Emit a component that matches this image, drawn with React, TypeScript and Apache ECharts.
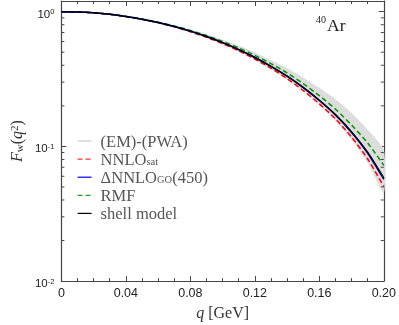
import React, { useEffect, useRef } from "react";
import * as echarts from "echarts";

// ---- data ----
const qValues = [0, 0.01, 0.02, 0.03, 0.04, 0.05, 0.06, 0.07, 0.08, 0.09, 0.1, 0.11, 0.12, 0.13, 0.14, 0.15, 0.16, 0.17, 0.18, 0.19, 0.2];
const shellModel = [1.0, 0.995, 0.98, 0.956, 0.922, 0.88, 0.832, 0.777, 0.717, 0.654, 0.589, 0.523, 0.457, 0.393, 0.332, 0.274, 0.22, 0.172, 0.128, 0.09, 0.058];
const deltaNNLO = [1.0, 0.995, 0.98, 0.956, 0.922, 0.88, 0.832, 0.777, 0.717, 0.654, 0.589, 0.523, 0.457, 0.393, 0.332, 0.273, 0.219, 0.171, 0.127, 0.089, 0.057];
const nnloSat = [1.0, 0.995, 0.98, 0.956, 0.92, 0.878, 0.829, 0.772, 0.71, 0.645, 0.579, 0.512, 0.445, 0.38, 0.318, 0.26, 0.207, 0.16, 0.117, 0.0806, 0.0503];
const rmf = [1.0, 0.995, 0.98, 0.956, 0.924, 0.883, 0.836, 0.784, 0.726, 0.665, 0.602, 0.538, 0.474, 0.411, 0.351, 0.292, 0.238, 0.189, 0.144, 0.106, 0.0723];
const bandUpper = [1.0, 0.995, 0.98, 0.958, 0.925, 0.886, 0.842, 0.792, 0.737, 0.679, 0.62, 0.56, 0.498, 0.437, 0.38, 0.325, 0.272, 0.224, 0.177, 0.133, 0.0942];
const bandLower = [1.0, 0.995, 0.98, 0.954, 0.92, 0.877, 0.826, 0.769, 0.707, 0.642, 0.574, 0.506, 0.438, 0.373, 0.313, 0.255, 0.202, 0.155, 0.112, 0.0753, 0.0453];

const xMin = 0;
const xMax = 0.2;
const xInterval = 0.04;
const xTickLabels = ["0", "0.04", "0.08", "0.12", "0.16", "0.20"];
const yMin = 0.01;
const yMax = 1.2;
const yMajorTicks = [0.01, 0.1, 1];
const yTickExponents = ["-2", "-1", "0"];
const yMinorTicks = [0.02, 0.03, 0.04, 0.05, 0.06, 0.07, 0.08, 0.09, 0.2, 0.3, 0.4, 0.5, 0.6, 0.7, 0.8, 0.9];

const legendNames = ["(EM)-(PWA)", "NNLO_sat", "ΔNNLO_GO(450)", "RMF", "shell model"];
const legendLabels: Record<string, string> = {
  "(EM)-(PWA)": "{t|(EM)-(PWA)}",
  "NNLO_sat": "{t|NNLO}{sub|sat}",
  "ΔNNLO_GO(450)": "{t|ΔNNLO}{sub|GO}{t|(450)}",
  "RMF": "{t|RMF}",
  "shell model": "{t|shell model}",
};

const SERIF = '"Liberation Serif", "DejaVu Serif", serif';
const SANS = '"Liberation Sans", Arial, sans-serif';
const AXIS_COLOR = "#444";

export default function App() {
  const ref = useRef<HTMLDivElement>(null);

  useEffect(() => {
    if (!ref.current) return;
    const chart = echarts.init(ref.current, null, { renderer: "svg" });
    const pairs = (arr: number[]) => qValues.map((q, i) => [q, arr[i]]);

    const lineSeries = (name: string, arr: number[], color: string, dashed: boolean, width: number) => ({
      type: "line",
      name,
      data: pairs(arr),
      symbol: "none",
      showSymbol: false,
      smooth: 0.25,
      silent: true,
      lineStyle: { color, width, type: dashed ? [5, 3] : "solid" },
      itemStyle: { color },
    });

    const axisLineStyle = { color: AXIS_COLOR, width: 1.2 };
    const legendLine = (color: string, dashed: boolean) => ({
      color,
      width: 1.2,
      type: dashed ? [5, 3] : "solid",
    });

    const option: any = {
      animation: false,
      grid: { left: 59, right: 14, top: 1, bottom: 42, containLabel: false },
      xAxis: [
        {
          type: "value",
          min: xMin,
          max: xMax,
          interval: xInterval,
          position: "bottom",
          axisLine: { onZero: false, lineStyle: axisLineStyle },
          axisTick: { inside: true, length: 5, lineStyle: { color: AXIS_COLOR } },
          minorTick: { show: true, splitNumber: 4, length: 3, lineStyle: { color: AXIS_COLOR } },
          splitLine: { show: false },
          axisLabel: {
            margin: 5,
            fontFamily: SANS,
            fontSize: 12.5,
            color: "#222",
            formatter: (v: number) => xTickLabels[Math.round((v - xMin) / xInterval)] ?? "",
          },
          name: "{i|q} [GeV]",
          nameLocation: "middle",
          nameGap: 20,
          nameTextStyle: {
            fontFamily: SERIF,
            fontSize: 16,
            color: "#333",
            rich: { i: { fontFamily: SERIF, fontSize: 16, fontStyle: "italic", color: "#333" } },
          },
        },
        {
          type: "value",
          min: xMin,
          max: xMax,
          interval: xInterval,
          position: "top",
          axisLine: { onZero: false, lineStyle: axisLineStyle },
          axisTick: { inside: true, length: 5, lineStyle: { color: AXIS_COLOR } },
          minorTick: { show: true, splitNumber: 4, length: 3, lineStyle: { color: AXIS_COLOR } },
          splitLine: { show: false },
          axisLabel: { show: false },
        },
      ],
      yAxis: [
        {
          type: "log",
          logBase: 10,
          min: yMin,
          max: yMax,
          position: "left",
          axisLine: { onZero: false, lineStyle: axisLineStyle },
          axisTick: { inside: true, length: 5, lineStyle: { color: AXIS_COLOR } },
          splitLine: { show: false },
          axisLabel: {
            margin: 7,
            padding: [4, 0, 0, 0],
            formatter: (v: number) => {
              const idx = yMajorTicks.findIndex((t) => Math.abs(Math.log10(v) - Math.log10(t)) < 1e-6);
              return idx < 0 ? "" : "{b|10}{s|" + yTickExponents[idx] + "}";
            },
            rich: {
              b: { fontFamily: SANS, fontSize: 11.5, color: "#222", lineHeight: 12, verticalAlign: "bottom" },
              s: { fontFamily: SANS, fontSize: 7.5, color: "#222", lineHeight: 6, verticalAlign: "top" },
            },
          },
          name: "{i|F}{sub|w}({i|q}{sup|2})",
          nameLocation: "middle",
          nameRotate: 90,
          nameGap: 34,
          nameTextStyle: {
            fontFamily: SERIF,
            fontSize: 16,
            lineHeight: 16,
            color: "#333",
            rich: {
              i: { fontFamily: SERIF, fontSize: 16, fontStyle: "italic", color: "#333", lineHeight: 16 },
              sub: { fontFamily: SERIF, fontSize: 11, color: "#333", lineHeight: 6, verticalAlign: "bottom" },
              sup: { fontFamily: SERIF, fontSize: 11, color: "#333", lineHeight: 10, verticalAlign: "top" },
            },
          },
        },
        {
          type: "log",
          logBase: 10,
          min: yMin,
          max: yMax,
          position: "right",
          axisLine: { onZero: false, lineStyle: axisLineStyle },
          axisTick: { inside: true, length: 5, lineStyle: { color: AXIS_COLOR } },
          splitLine: { show: false },
          axisLabel: { show: false },
        },
      ],
      legend: {
        orient: "vertical",
        left: 77,
        top: 132.5,
        padding: 0,
        itemWidth: 14,
        itemHeight: 2,
        itemGap: 1.1,
        selectedMode: false,
        formatter: (name: string) => legendLabels[name] ?? name,
        textStyle: {
          color: "#555",
          fontFamily: SERIF,
          fontSize: 16,
          lineHeight: 16,
          padding: [0, 0, 0, 4],
          rich: {
            t: { fontFamily: SERIF, fontSize: 16.5, color: "#555", lineHeight: 16 },
            sub: { fontFamily: SERIF, fontSize: 10.5, color: "#555", lineHeight: 6, verticalAlign: "bottom" },
          },
        },
        data: [
          { name: legendNames[0], itemStyle: { color: "#e0e0e0" } },
          { name: legendNames[1], itemStyle: { opacity: 0 }, lineStyle: legendLine("#ff3030", true) },
          { name: legendNames[2], itemStyle: { opacity: 0 }, lineStyle: legendLine("#0000ff", false) },
          { name: legendNames[3], itemStyle: { opacity: 0 }, lineStyle: legendLine("#20a020", true) },
          { name: legendNames[4], itemStyle: { opacity: 0 }, lineStyle: legendLine("#000000", false) },
        ],
      },
      graphic: [
        { type: "text", left: 316, top: 14, style: { text: "40", fontFamily: SERIF, fontSize: 10, fill: "#222" } },
        { type: "text", left: 327, top: 16, style: { text: "Ar", fontFamily: SERIF, fontSize: 17.5, fill: "#222" } },
      ],
      series: [
        {
          type: "custom",
          name: legendNames[0],
          silent: true,
          data: [[0, 1]],
          itemStyle: { color: "#dddddd" },
          renderItem: (params: any, api: any) => {
            if (params.dataIndex !== 0) return null;
            const up = qValues.map((q, i) => api.coord([q, bandUpper[i]]));
            const lo = qValues.map((q, i) => api.coord([q, bandLower[i]])).reverse();
            return { type: "polygon", shape: { points: up.concat(lo), smooth: 0.2 }, style: { fill: "#dddddd" } };
          },
          z: 1,
        },
        { ...lineSeries(legendNames[1], nnloSat, "#ff0000", true, 1.5), z: 3 },
        { ...lineSeries(legendNames[3], rmf, "#009600", true, 1.5), z: 3 },
        { ...lineSeries(legendNames[2], deltaNNLO, "#0000ff", false, 1.5), z: 4 },
        { ...lineSeries(legendNames[4], shellModel, "#000000", false, 1.5), z: 5 },
        {
          type: "custom",
          name: "yMinorTicks",
          silent: true,
          clip: false,
          data: yMinorTicks.map((v) => [xMin, v]),
          renderItem: (params: any, api: any) => {
            const v = api.value(1);
            const l = api.coord([xMin, v]);
            const r = api.coord([xMax, v]);
            return {
              type: "group",
              children: [
                { type: "line", shape: { x1: l[0], y1: l[1], x2: l[0] + 3, y2: l[1] }, style: { stroke: AXIS_COLOR, lineWidth: 1 } },
                { type: "line", shape: { x1: r[0] - 3, y1: r[1], x2: r[0], y2: r[1] }, style: { stroke: AXIS_COLOR, lineWidth: 1 } },
              ],
            };
          },
          z: 10,
        },
      ],
    };

    chart.setOption(option);
    return () => chart.dispose();
  }, []);

  return <div ref={ref} style={{ position: "fixed", left: 0, top: 0, width: 399, height: 325 }} />;
}
